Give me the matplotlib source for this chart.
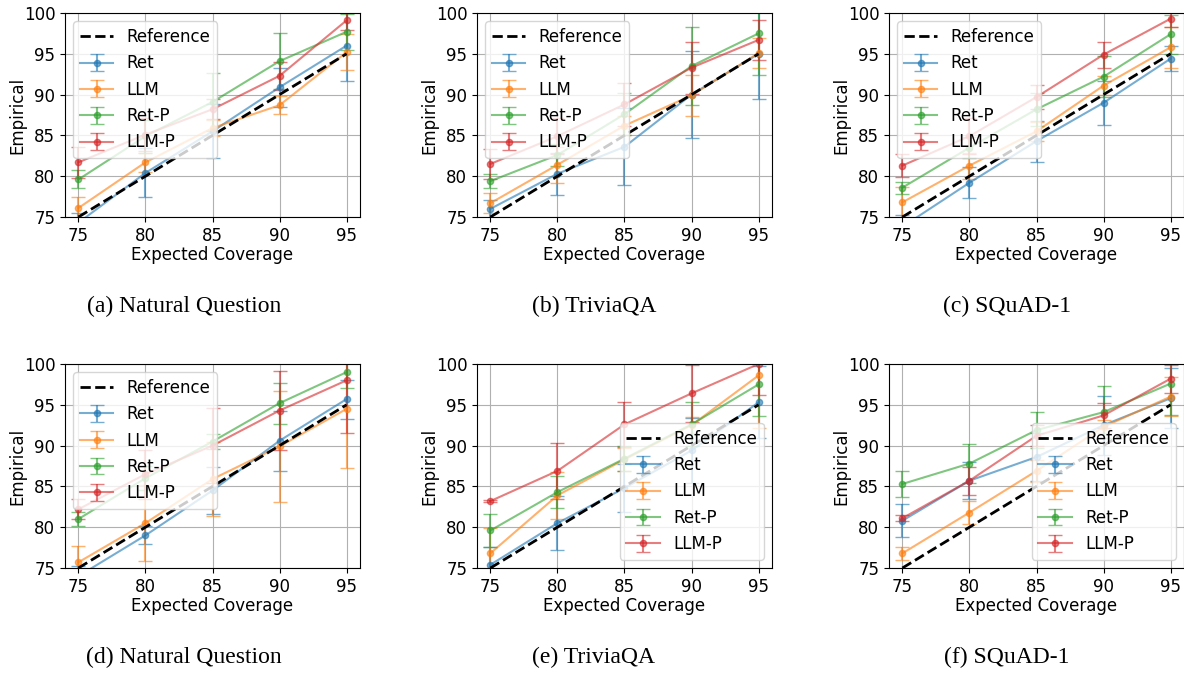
import numpy as np
import matplotlib
matplotlib.use("Agg")
import matplotlib.pyplot as plt

# expected coverage levels
coverage = [75, 80, 85, 90, 95]
methods = ["Ret", "LLM", "Ret-P", "LLM-P"]
colors = ["tab:blue", "tab:orange", "tab:green", "tab:red"]

captions = ["(a) Natural Question", "(b) TriviaQA", "(c) SQuAD-1",
            "(d) Natural Question", "(e) TriviaQA", "(f) SQuAD-1"]

# (a) Natural Question
a_mean = {"Ret":   [74.3, 80.4, 85.5, 90.9, 96.0],
          "LLM":   [76.1, 81.7, 85.9, 88.7, 95.2],
          "Ret-P": [79.6, 84.9, 89.1, 94.1, 97.7],
          "LLM-P": [81.7, 85.1, 88.2, 92.3, 99.1]}
a_err = {"Ret":   [1.2, 3.0, 3.3, 2.4, 4.3],
         "LLM":   [1.4, 1.2, 1.0, 1.1, 2.2],
         "Ret-P": [1.1, 2.0, 3.5, 3.4, 2.2],
         "LLM-P": [1.9, 2.0, 1.2, 1.7, 1.2]}

# (b) TriviaQA
b_mean = {"Ret":   [76.0, 80.3, 83.6, 90.0, 95.0],
          "LLM":   [76.7, 81.4, 86.2, 89.9, 95.1],
          "Ret-P": [79.4, 82.6, 87.6, 93.5, 97.5],
          "LLM-P": [81.5, 84.9, 88.8, 93.3, 96.7]}
b_err = {"Ret":   [1.1, 2.6, 4.7, 5.3, 5.5],
         "LLM":   [1.2, 2.2, 1.2, 2.5, 1.8],
         "Ret-P": [0.9, 1.3, 2.6, 4.8, 5.1],
         "LLM-P": [1.8, 2.2, 2.6, 3.2, 2.5]}

# (c) SQuAD-1
c_mean = {"Ret":   [73.8, 79.2, 84.3, 89.0, 94.4],
          "LLM":   [76.8, 81.3, 85.5, 91.1, 95.8],
          "Ret-P": [78.6, 83.5, 88.2, 92.2, 97.4],
          "LLM-P": [81.3, 84.9, 89.7, 94.9, 99.3]}
c_err = {"Ret":   [1.5, 1.9, 2.5, 2.7, 1.5],
         "LLM":   [1.9, 1.6, 1.2, 1.2, 2.5],
         "Ret-P": [0.75, 1.3, 2.0, 2.5, 2.4],
         "LLM-P": [1.45, 2.2, 1.5, 1.6, 1.0]}

# (d) Natural Question
d_mean = {"Ret":   [74.0, 79.0, 84.5, 90.6, 95.7],
          "LLM":   [75.7, 80.5, 85.9, 89.9, 94.5],
          "Ret-P": [81.0, 86.0, 90.5, 95.2, 99.0],
          "LLM-P": [82.2, 86.5, 90.0, 94.3, 98.0]}
d_err = {"Ret":   [1.3, 1.1, 2.9, 3.7, 2.4],
         "LLM":   [2.0, 4.7, 4.5, 6.8, 7.3],
         "Ret-P": [0.9, 1.5, 0.9, 2.5, 2.0],
         "LLM-P": [1.2, 3.0, 4.6, 4.9, 6.4]}

# (e) TriviaQA
e_mean = {"Ret":   [75.4, 80.5, 84.8, 89.4, 95.3],
          "LLM":   [76.8, 83.9, 88.3, 92.5, 98.6],
          "Ret-P": [79.6, 84.3, 88.4, 92.6, 97.5],
          "LLM-P": [83.2, 86.9, 92.6, 96.4, 100.0]}
e_err = {"Ret":   [2.2, 3.3, 2.9, 4.0, 4.4],
         "LLM":   [3.1, 2.9, 1.4, 1.0, 6.4],
         "Ret-P": [2.0, 2.0, 1.5, 2.7, 3.9],
         "LLM-P": [0.1, 3.4, 2.8, 3.5, 3.8]}

# (f) SQuAD-1
f_mean = {"Ret":   [80.8, 85.7, 88.6, 92.5, 95.8],
          "LLM":   [76.8, 81.8, 86.9, 92.3, 96.0],
          "Ret-P": [85.3, 87.8, 91.9, 94.1, 97.6],
          "LLM-P": [81.1, 85.7, 91.2, 93.7, 98.2]}
f_err = {"Ret":   [2.0, 2.3, 2.9, 3.6, 3.7],
         "LLM":   [0.8, 1.4, 1.3, 0.8, 2.4],
         "Ret-P": [1.6, 2.4, 2.2, 3.2, 3.9],
         "LLM-P": [0.4, 1.7, 1.3, 1.5, 1.7]}

panels = [(a_mean, a_err), (b_mean, b_err), (c_mean, c_err),
          (d_mean, d_err), (e_mean, e_err), (f_mean, f_err)]
legend_locs = ["upper left", "upper left", "upper left",
               "upper left", "lower right", "lower right"]

plt.rcParams["font.size"] = 12

fig = plt.figure(figsize=(11.84, 6.73), dpi=100)

lefts = [65, 477, 889]
tops = [13, 364]
ax_w, ax_h = 295, 204
cap_x = [184, 594, 1007]
cap_y = [306, 657]

for i, (means, errs) in enumerate(panels):
    row, col = divmod(i, 3)
    ax = fig.add_axes([lefts[col] / 1184, 1 - (tops[row] + ax_h) / 673,
                       ax_w / 1184, ax_h / 673])
    ax.plot(coverage, coverage, "k--", lw=2, label="Reference", zorder=5)
    for m, c in zip(methods, colors):
        ax.errorbar(coverage, means[m], yerr=errs[m], color=c, marker="o",
                    markersize=4.5, capsize=5, alpha=0.6, lw=1.5, label=m)
    ax.set_ylim(75, 100)
    ax.set_xticks(coverage)
    ax.set_xlabel("Expected Coverage", labelpad=1)
    ax.set_ylabel("Empirical", labelpad=-2)
    ax.grid(True)
    ax.legend(loc=legend_locs[i])
    fig.text(cap_x[col] / 1184, 1 - cap_y[row] / 673, captions[i],
             ha="center", va="center", family="Liberation Serif", fontsize=17)

fig.savefig("out.png", dpi=100)
